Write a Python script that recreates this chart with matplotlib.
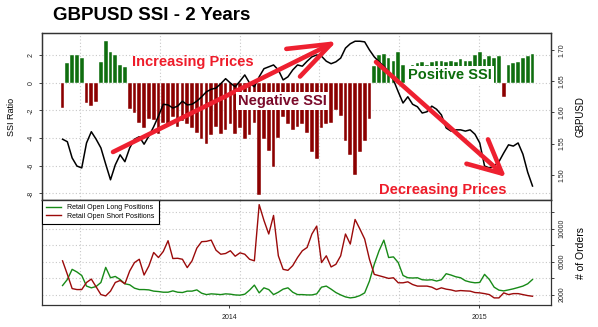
import numpy as np
import pandas as pd
import matplotlib
matplotlib.use('Agg')
import matplotlib.pyplot as plt
from matplotlib.patches import FancyArrowPatch

plt.rcParams['font.family'] = ['Liberation Sans', 'DejaVu Sans']
plt.rcParams['axes.unicode_minus'] = False

# weekly readings taken off the chart
dates = pd.date_range('2013-05-03', periods=99, freq='7D')

ssi = [-1.8, 1.4, 2.0, 2.0, 1.8, -1.5, -1.7, -1.4, 1.5, 3.0,
       2.2, 2.0, 1.3, 1.1, -1.9, -2.2, -2.9, -3.3, -2.6, -2.7,
       -3.7, -2.9, -3.1, -2.5, -3.2, -2.8, -3.0, -3.3, -3.6, -4.1,
       -4.4, -3.8, -3.2, -3.7, -3.4, -3.0, -3.7, -3.3, -4.1, -3.8,
       -2.9, -8.1, -4.1, -4.9, -6.1, -4.0, -2.5, -3.0, -3.4, -3.2,
       -3.0, -3.6, -5.0, -5.5, -3.3, -3.0, -2.9, -2.0, -2.4, -4.2,
       -5.2, -6.7, -5.0, -4.2, -2.6, 1.2, 2.0, 2.1, 1.8, 1.6,
       2.2, 1.3, 1.2, 1.3, 1.4, 1.5, 1.3, 1.5, 1.6, 1.6,
       1.5, 1.6, 1.5, 1.7, 1.6, 1.6, 2.0, 2.2, 1.7, 1.9,
       1.8, 1.9, -1.0, 1.3, 1.4, 1.5, 1.8, 1.9, 2.1]

gbpusd = [1.557, 1.553, 1.527, 1.514, 1.511, 1.551, 1.569, 1.557, 1.543, 1.517,
          1.492, 1.516, 1.532, 1.521, 1.543, 1.557, 1.561, 1.549, 1.562, 1.577,
          1.594, 1.613, 1.612, 1.607, 1.610, 1.618, 1.612, 1.613, 1.618, 1.625,
          1.633, 1.637, 1.639, 1.646, 1.654, 1.647, 1.641, 1.650, 1.660, 1.647,
          1.641, 1.657, 1.670, 1.673, 1.676, 1.668, 1.652, 1.657, 1.668, 1.676,
          1.674, 1.682, 1.689, 1.692, 1.690, 1.682, 1.678, 1.681, 1.687, 1.703,
          1.710, 1.714, 1.714, 1.713, 1.700, 1.689, 1.681, 1.674, 1.665, 1.652,
          1.633, 1.615, 1.625, 1.613, 1.609, 1.599, 1.601, 1.610, 1.605, 1.596,
          1.575, 1.570, 1.572, 1.572, 1.570, 1.572, 1.565, 1.551, 1.514, 1.511,
          1.514, 1.521, 1.535, 1.548, 1.546, 1.551, 1.533, 1.504, 1.482]

long_pos = [3100, 3830, 5060, 4740, 4320, 3030, 2820, 2980, 3470, 5300,
            4040, 4200, 3830, 3310, 3190, 2780, 2610, 2610, 2570, 2420,
            2370, 2290, 2290, 2450, 2290, 2250, 2420, 2420, 2570, 2170,
            2000, 2090, 2050, 2000, 2090, 2050, 1960, 1930, 2050, 2540,
            3150, 2210, 2820, 2610, 2000, 2290, 2660, 2820, 2290, 2000,
            2000, 1960, 1960, 2090, 2900, 3030, 2660, 2250, 1960, 1720,
            1600, 1680, 1880, 2210, 3640, 5670, 7310, 8600, 6490, 6570,
            5880, 4320, 4040, 4010, 4040, 3800, 3760, 3800, 3640, 3800,
            4530, 4370, 4160, 4040, 3680, 3520, 3430, 3470, 4450, 3830,
            2900, 2540, 2450, 2570, 2700, 2860, 3030, 3310, 3830]

short_pos = [6090, 4450, 2730, 2610, 2610, 3470, 3880, 2940, 2000, 1840,
             2420, 3470, 3710, 3310, 4860, 5880, 6280, 4370, 5470, 7100,
             6490, 7220, 8530, 6370, 6400, 6280, 5270, 6090, 7630, 8410,
             8450, 8600, 7380, 6890, 6980, 7310, 6650, 7060, 6890, 6280,
             6090, 12900, 10980, 9340, 11590, 6700, 5060, 4940, 5510, 6490,
             7310, 7710, 9340, 10300, 5880, 6700, 5350, 5670, 6700, 9340,
             8120, 11100, 9950, 8730, 6280, 4450, 4290, 4130, 3960, 4040,
             3430, 3430, 3550, 3220, 3030, 3030, 3030, 2900, 2610, 2820,
             2660, 2570, 2420, 2490, 2450, 2420, 2250, 2210, 2120, 2000,
             1600, 1600, 2210, 2000, 2120, 2120, 2000, 1880, 1800]

ssi_ticks = [-8, -6, -4, -2, 0, 2]
price_ticks = [1.50, 1.55, 1.60, 1.65, 1.70]
price_labels = ['1.50', '1.55', '1.60', '1.65', '1.70']
order_ticks = [2000, 4000, 6000, 8000, 10000, 12000]
order_labels = ['2000', '', '6000', '', '10000', '']
year_ticks = pd.to_datetime(['2014-01-01', '2015-01-01'])
year_labels = ['2014', '2015']

W, H = 598, 327
GREEN_BAR = '#0f6e0f'
RED_BAR = '#8b0000'
GRID = '#c8c8c8'

fig = plt.figure(figsize=(W / 100, H / 100), dpi=100)
ax1 = fig.add_axes([42 / W, 1 - 200 / H, 509 / W, 167 / H])
ax2 = fig.add_axes([42 / W, 1 - 305 / H, 509 / W, 105 / H], sharex=ax1)
ax1r = ax1.twinx()

ssi_arr = np.array(ssi)
bar_cols = np.where(ssi_arr >= 0, GREEN_BAR, RED_BAR)
ax1.bar(dates, ssi_arr, width=5.4, color=bar_cols, edgecolor='white', linewidth=0.3)
ax1r.plot(dates, gbpusd, color='black', lw=1.1)

ax2.plot(dates, long_pos, color='#178a17', lw=1.0, label='Retail Open Long Positions')
ax2.plot(dates, short_pos, color='#9b0a0a', lw=1.0, label='Retail Open Short Positions')

ax1.set_xlim(pd.Timestamp('2013-04-03'), pd.Timestamp('2015-04-16'))
ax1.set_ylim(-8.47, 3.59)
ax1r.set_ylim(1.4596, 1.7272)
ax2.set_ylim(740, 13460)

# dotted grid
vgrid = [pd.Timestamp('2015-01-01') - pd.Timedelta(days=116.5 * k) for k in range(6)]
for ax in (ax1, ax2):
    for d in vgrid:
        ax.axvline(d, color=GRID, lw=0.8, ls=(0, (1, 2)), zorder=0)
for v in ssi_ticks:
    ax1.axhline(v, color=GRID, lw=0.8, ls=(0, (1, 2)), zorder=0)
for v in order_ticks:
    ax2.axhline(v, color=GRID, lw=0.8, ls=(0, (1, 2)), zorder=0)

tick_kw = dict(labelsize=5, length=2.5, width=0.6, colors='#222222')
ax1.set_yticks(ssi_ticks)
ax1.set_yticklabels([str(v) for v in ssi_ticks])
ax1.tick_params(axis='y', pad=5.5, **tick_kw)
ax1.tick_params(axis='x', bottom=False, labelbottom=False)
ax1r.set_yticks(price_ticks)
ax1r.set_yticklabels(price_labels)
ax1r.tick_params(axis='y', pad=5.5, **tick_kw)

ax2.yaxis.tick_right()
ax2.set_yticks(order_ticks)
ax2.set_yticklabels(order_labels)
ax2.tick_params(axis='y', pad=5.5, **tick_kw)
ax2.set_xticks(year_ticks)
ax2.set_xticklabels(year_labels)
ax2.tick_params(axis='x', pad=4, **tick_kw)

for lab in ax1.get_yticklabels() + ax1r.get_yticklabels() + ax2.get_yticklabels():
    lab.set_rotation(90)
    lab.set_ha('center')
    lab.set_va('center')

for ax in (ax1, ax1r, ax2):
    for s in ax.spines.values():
        s.set_color('#333333')
        s.set_linewidth(0.9)

leg = ax2.legend(loc='upper left', fontsize=5, frameon=True, fancybox=False,
                 edgecolor='black', framealpha=1, borderaxespad=0,
                 handlelength=2.2, handletextpad=0.8, borderpad=0.6,
                 labelspacing=0.2)
leg.get_frame().set_linewidth(0.8)


def px(x, y):
    return x / W, 1 - y / H


fig.text(*px(12, 117), 'SSI Ratio', rotation=90, ha='center', va='center', fontsize=6.5)
fig.text(*px(580, 117), 'GBPUSD', rotation=90, ha='center', va='center', fontsize=7)
fig.text(*px(581, 253), '# of Orders', rotation=90, ha='center', va='center', fontsize=7.5)

fig.text(*px(152, 15), 'GBPUSD SSI - 2 Years', ha='center', va='center',
         fontsize=13.5, fontweight='bold')

box = dict(facecolor='white', edgecolor='none', pad=1.2)
fig.text(*px(193, 62), 'Increasing Prices', ha='center', va='center',
         fontsize=10.5, fontweight='bold', color='#ee1c2a')
fig.text(*px(282, 101), 'Negative SSI', ha='center', va='center',
         fontsize=10.5, fontweight='bold', color='#7a0a2a', bbox=box)
fig.text(*px(450, 75), 'Positive SSI', ha='center', va='center',
         fontsize=10.5, fontweight='bold', color='#0b6b0b', bbox=box)
fig.text(*px(443, 190), 'Decreasing Prices', ha='center', va='center',
         fontsize=10.5, fontweight='bold', color='#ee1c2a')

arrows = [((113, 152), (337, 41), 30.4, 11.1),
          ((376, 62), (506, 177), 23.9, 11.7)]
for start, end, hl, hw in arrows:
    arr = FancyArrowPatch(px(*start), px(*end), transform=fig.transFigure,
                          arrowstyle='->,head_length=%g,head_width=%g' % (hl, hw),
                          mutation_scale=1, color='#ee2030', lw=3.3,
                          shrinkA=0, shrinkB=0, capstyle='round', joinstyle='round')
    fig.add_artist(arr)

fig.savefig('out.png', dpi=100)
